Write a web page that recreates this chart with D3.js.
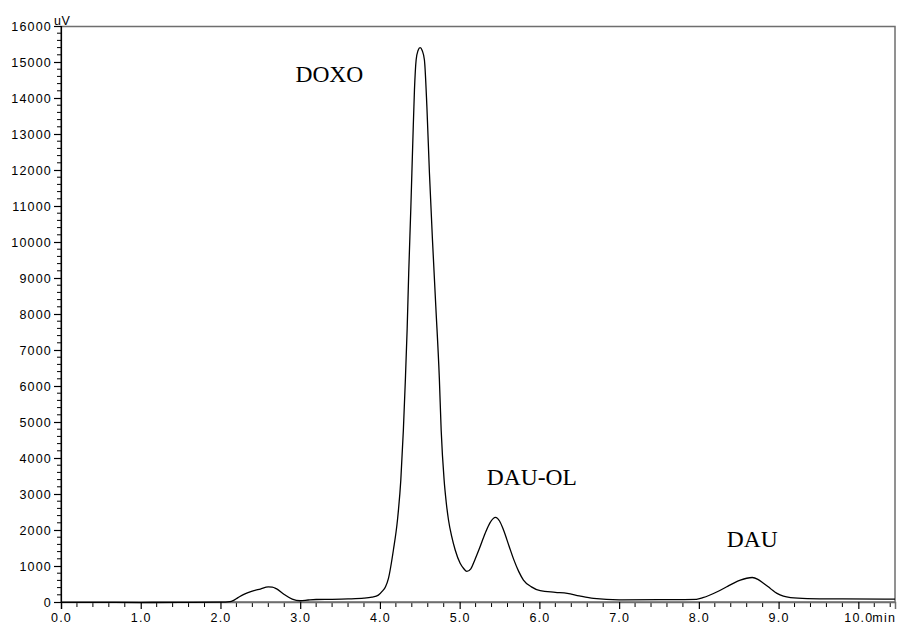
<!DOCTYPE html>
<html>
<head>
<meta charset="utf-8">
<script src="https://cdn.jsdelivr.net/npm/d3@7"></script>
<style>
  body { margin: 0; background: #fff; }
  svg { display: block; }
</style>
</head>
<body>
<div id="chart"></div>
<script>
// chromatogram trace (min, uV)
const times = [0.0, 0.5, 1.0, 1.5, 2.0, 2.12, 2.16, 2.22, 2.3, 2.4, 2.5, 2.6, 2.65, 2.7, 2.8, 2.9, 3.0, 3.1, 3.2, 3.4, 3.6, 3.8, 3.9,
  3.98, 4.03, 4.07, 4.107, 4.169, 4.22, 4.262, 4.294, 4.319, 4.341, 4.361, 4.388, 4.413, 4.433, 4.454, 4.478, 4.504, 4.53,
  4.558, 4.589, 4.621, 4.659, 4.701, 4.745, 4.768, 4.805, 4.83, 4.86, 4.9, 4.944, 5.006, 5.05, 5.09, 5.14, 5.19, 5.25,
  5.32, 5.38, 5.45, 5.5, 5.55, 5.62, 5.68, 5.74, 5.8, 5.9, 6.01, 6.2, 6.35, 6.5, 6.68, 7.0, 7.5, 7.97, 8.05, 8.14, 8.25,
  8.35, 8.45, 8.52, 8.6, 8.67, 8.74, 8.81, 8.9, 8.98, 9.06, 9.15, 9.36, 9.8, 10.46];
const signal = [-10, -10, -15, -10, -5, 10, 40, 120, 220, 300, 360, 420, 415, 370, 210, 80, 35, 55, 70, 75, 85, 105, 135,
  190, 300, 425, 658, 1444, 2278, 3389, 4778, 6167, 7556, 9139, 10972, 12833, 14222, 15056, 15320, 15400, 15320,
  15056, 13758, 11908, 10056, 8203, 6222, 4778, 3389, 2800, 2278, 1820, 1444, 1075, 930, 850, 920, 1170, 1500,
  1910, 2200, 2350, 2250, 2000, 1550, 1170, 850, 610, 420, 315, 270, 240, 170, 100, 60, 65, 75, 120, 195, 305,
  425, 540, 605, 660, 680, 630, 520, 370, 240, 160, 120, 95, 85, 80];

const xTicks = [0, 1, 2, 3, 4, 5, 6, 7, 8, 9, 10];
const yTicks = [0, 1000, 2000, 3000, 4000, 5000, 6000, 7000, 8000, 9000, 10000, 11000, 12000, 13000, 14000, 15000, 16000];

const peakNames = ["DOXO", "DAU-OL", "DAU"];
const peakLabelTime = [2.94, 5.34, 8.35];
const peakLabelValue = [14440, 3250, 1540];

const W = 900, H = 626;
const mLeft = 61, mRight = 895, mTop = 26, mBottom = 602;
const tickFont = "'Liberation Sans', Arial, sans-serif";

const svg = d3.select("#chart").append("svg")
  .attr("width", W)
  .attr("height", H);

const x = d3.scaleLinear().domain([0, 10.46]).range([mLeft, mRight]);
const y = d3.scaleLinear().domain([0, 16000]).range([mBottom, mTop]);

// frame
svg.append("rect")
  .attr("x", mLeft).attr("y", mTop + 0.5)
  .attr("width", mRight - mLeft).attr("height", mBottom - mTop - 0.5)
  .attr("fill", "none")
  .attr("stroke", "#6e6e6e")
  .attr("stroke-width", 1.5);

// minor ticks
const xMinor = d3.range(0, 10.41, 0.2).filter(d => Math.abs(d - Math.round(d)) > 0.01);
const yMinor = d3.range(0, 16001, 200).filter(d => d % 1000 !== 0);

svg.append("g").selectAll("line")
  .data(xMinor).enter().append("line")
    .attr("x1", d => x(d)).attr("x2", d => x(d))
    .attr("y1", mBottom + 1).attr("y2", mBottom + 5)
    .attr("stroke", "#000").attr("stroke-width", 1);

svg.append("g").selectAll("line")
  .data(yMinor).enter().append("line")
    .attr("x1", mLeft - 4).attr("x2", mLeft + 1)
    .attr("y1", d => y(d)).attr("y2", d => y(d))
    .attr("stroke", "#000").attr("stroke-width", 1);

// major axes
const xAxis = d3.axisBottom(x).tickValues(xTicks).tickSize(7).tickPadding(4)
  .tickFormat(d => d3.format(".1f")(d));
const yAxis = d3.axisLeft(y).tickValues(yTicks).tickSize(7).tickPadding(2)
  .tickFormat(d => d);

const gx = svg.append("g").attr("transform", `translate(0,${mBottom})`).call(xAxis);
const gy = svg.append("g").attr("transform", `translate(${mLeft},0)`).call(yAxis);

[gx, gy].forEach(g => {
  g.select(".domain").attr("stroke", "#000").attr("stroke-width", 1.2);
  g.selectAll(".tick line").attr("stroke", "#000").attr("stroke-width", 1.2);
  g.selectAll(".tick text")
    .attr("fill", "#000")
    .style("font-family", tickFont)
    .style("font-size", "12.5px")
    .style("letter-spacing", "1.2px");
});
gx.select(".domain").attr("stroke", "#6e6e6e").attr("stroke-width", 1.5);

svg.append("text")
  .attr("x", x(10) + 14)
  .attr("y", mBottom + 11)
  .attr("dy", "0.71em")
  .style("font-family", tickFont)
  .style("font-size", "12.5px")
  .style("letter-spacing", "1.2px")
  .text("min");

svg.append("text")
  .attr("x", mLeft - 7)
  .attr("y", mTop - 1)
  .style("font-family", tickFont)
  .style("font-size", "12.5px")
  .style("letter-spacing", "0.5px")
  .text("uV");

// trace
const points = times.map((t, i) => [t, signal[i]]);
const line = d3.line()
  .x(d => x(d[0]))
  .y(d => y(d[1]))
  .curve(d3.curveMonotoneX);

svg.append("path")
  .datum(points)
  .attr("d", line)
  .attr("fill", "none")
  .attr("stroke", "#000")
  .attr("stroke-width", 1.3);

// peak labels
svg.append("g").selectAll("text")
  .data(peakNames).enter().append("text")
    .attr("x", (d, i) => x(peakLabelTime[i]))
    .attr("y", (d, i) => y(peakLabelValue[i]))
    .style("font-family", "'Liberation Serif', 'Times New Roman', serif")
    .style("font-size", "23.5px")
    .attr("fill", "#000")
    .text(d => d);
</script>
</body>
</html>
